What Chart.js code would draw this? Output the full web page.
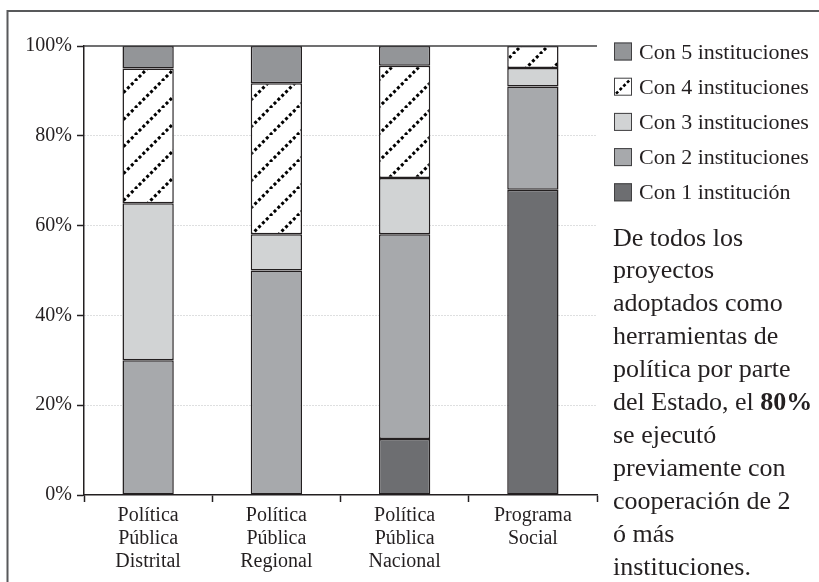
<!DOCTYPE html>
<html><head><meta charset="utf-8">
<script src="https://cdn.jsdelivr.net/npm/chart.js@4"></script>
<style>html,body{margin:0;padding:0;background:#fff}canvas{display:block}</style>
</head><body>
<canvas id="c" width="819" height="582"></canvas>
<script>
const categories = [["Política","Pública","Distrital"],["Política","Pública","Regional"],["Política","Pública","Nacional"],["Programa","Social"]];
const seriesNames = ["Con 1 institución","Con 2 instituciones","Con 3 instituciones","Con 4 instituciones","Con 5 instituciones"];
const con1 = [0, 0, 12.5, 68];
const con2 = [30, 50, 45.6, 23];
const con3 = [35, 8.1, 12.5, 4.1];
const con4 = [30, 33.6, 25, 4.9];
const con5 = [5, 8.3, 4.4, 0];
const yTicks = [0, 20, 40, 60, 80, 100];
const noteLines = ["De todos los","proyectos","adoptados como","herramientas de","política por parte","del Estado, el |80%","se ejecutó","previamente con","cooperación de 2","ó más","instituciones."];

const FONT = "'Liberation Serif', 'Times New Roman', serif";
const INK = '#231f20';
const canvas = document.getElementById('c');

function makeHatch() {
  const s = 27, t = document.createElement('canvas');
  t.width = s; t.height = s;
  const x = t.getContext('2d');
  x.fillStyle = '#fff'; x.fillRect(0, 0, s, s);
  x.strokeStyle = '#000'; x.lineWidth = 3;
  const d = s * Math.SQRT2 / 7;
  x.setLineDash([d * 0.55, d * 0.45]);
  for (const o of [-s, 0, s]) { x.beginPath(); x.moveTo(o, s); x.lineTo(o + s, 0); x.stroke(); }
  return canvas.getContext('2d').createPattern(t, 'repeat');
}
const hatch = makeHatch();
const fills = ['#6d6e71', '#a7a9ac', '#d1d3d4', hatch, '#939598'];
const seriesData = [con1, con2, con3, con4, con5];

const decor = {
  id: 'decor',
  afterDraw(chart) {
    const ctx = chart.ctx, ca = chart.chartArea, ys = chart.scales.y;
    ctx.save();
    // top solid 100% line
    const y100 = ys.getPixelForValue(100);
    ctx.strokeStyle = '#414042'; ctx.lineWidth = 1.5;
    ctx.beginPath(); ctx.moveTo(ca.left, y100); ctx.lineTo(ca.right, y100); ctx.stroke();
    // frame
    ctx.strokeStyle = '#58595b'; ctx.lineWidth = 2;
    ctx.beginPath(); ctx.moveTo(7.5, 582); ctx.lineTo(7.5, 11); ctx.lineTo(819, 11); ctx.stroke();
    // legend
    const lx = 614, ly0 = 42.5, step = 35.2, bs = 18;
    ctx.font = '22px ' + FONT; ctx.fillStyle = INK; ctx.textBaseline = 'alphabetic';
    const ds = chart.data.datasets;
    for (let k = 0; k < ds.length; k++) {
      const i = ds.length - 1 - k;
      const top = ly0 + k * step;
      if (i === 3) {
        ctx.fillStyle = '#fff'; ctx.fillRect(lx, top, bs, bs);
        ctx.save(); ctx.beginPath(); ctx.rect(lx, top, bs, bs); ctx.clip();
        ctx.strokeStyle = '#000'; ctx.lineWidth = 2.6; ctx.setLineDash([3, 2.2]);
        ctx.beginPath(); ctx.moveTo(lx + 2, top + bs - 2); ctx.lineTo(lx + bs - 2, top + 2); ctx.stroke();
        ctx.restore();
      } else {
        ctx.fillStyle = ds[i].backgroundColor; ctx.fillRect(lx, top, bs, bs);
      }
      ctx.strokeStyle = '#414042'; ctx.lineWidth = 1; ctx.setLineDash([]);
      ctx.strokeRect(lx + 0.5, top + 0.5, bs - 1, bs - 1);
      ctx.fillStyle = INK;
      ctx.fillText(ds[i].label, 639, top + 16);
    }
    // note text
    const nx = 613, nb0 = 245.5, nstep = 32.9;
    noteLines.forEach((line, j) => {
      const y = nb0 + j * nstep;
      const parts = line.split('|');
      let x = nx;
      parts.forEach((p, pi) => {
        ctx.font = (pi === 1 ? 'bold ' : '') + '26px ' + FONT;
        ctx.fillStyle = INK;
        ctx.fillText(p, x, y);
        x += ctx.measureText(p).width;
      });
    });
    ctx.restore();
  }
};

new Chart(canvas, {
  type: 'bar',
  data: {
    labels: categories,
    datasets: seriesData.map((d, i) => ({
      label: seriesNames[i],
      data: d,
      backgroundColor: fills[i],
      borderColor: INK,
      borderWidth: 1.5,
      borderSkipped: false,
      barPercentage: 0.4,
      categoryPercentage: 1
    }))
  },
  options: {
    responsive: false,
    animation: false,
    layout: { padding: { top: 46, right: 222, bottom: 0, left: 0 } },
    plugins: { legend: { display: false }, tooltip: { enabled: false } },
    scales: {
      x: {
        stacked: true,
        grid: { display: true, drawOnChartArea: false, drawTicks: true, tickLength: 7, tickColor: INK, tickWidth: 1.5, offset: true },
        border: { display: true, color: INK, width: 1.5 },
        ticks: { color: INK, font: { family: FONT, size: 20, lineHeight: 1.16 }, padding: 2, maxRotation: 0, autoSkip: false },
        afterFit: s => { s.height = 87; }
      },
      y: {
        stacked: true, min: 0, max: 100,
        afterBuildTicks: s => { s.ticks = yTicks.map(v => ({ value: v })); },
        ticks: { color: INK, font: { family: FONT, size: 20 }, padding: 5, callback: v => v + '%' },
        grid: {
          color: c => (c.tick && (c.tick.value === 100 || c.tick.value === 0)) ? 'rgba(0,0,0,0)' : '#bcbec0',
          lineWidth: 1, tickLength: 7, tickColor: INK, tickWidth: 1.5, tickBorderDash: []
        },
        border: { display: true, color: INK, width: 1.5, dash: [1, 2] },
        afterFit: s => { s.width = 84; }
      }
    }
  },
  plugins: [decor]
});
</script>
</body></html>
